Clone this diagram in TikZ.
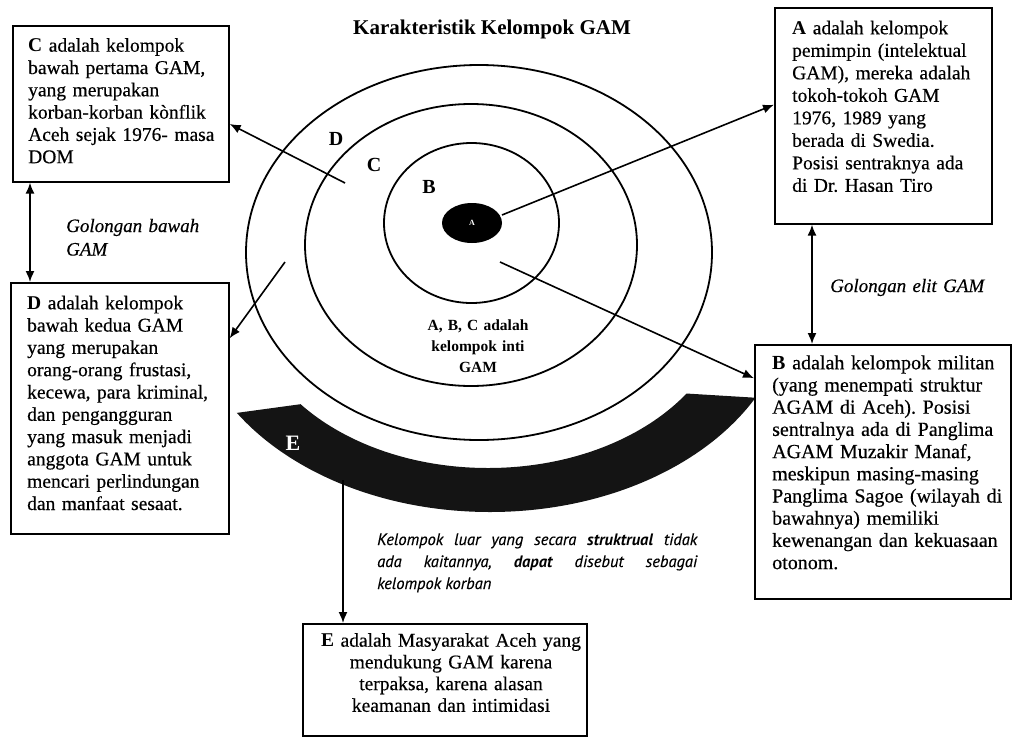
\documentclass[tikz,border=0pt]{standalone}
\usepackage{fontspec}
\setmainfont{Liberation Serif}[UprightFeatures={FakeBold=0.4},ItalicFeatures={FakeBold=0.4}]
\newfontfamily\capfont{PT Sans}[ItalicFeatures={FakeBold=0.4}]
\usetikzlibrary{arrows.meta,calc,shapes.geometric}
\frenchspacing
\begin{document}
\begin{tikzpicture}[x=1pt,y=-1pt,
  box/.style={draw, line width=1.6pt, rectangle, inner sep=0pt, anchor=north west},
  boxtext/.style={anchor=base west, inner sep=0pt, text width=245pt, align=left, font=\fontsize{19.5}{22.3}\selectfont},
  ctext/.style={anchor=base, inner sep=0pt, align=center},
  ring/.style={line width=1.8pt},
  lbl/.style={inner sep=0pt, font=\bfseries\fontsize{20}{24}\selectfont},
  arr/.style={line width=1.6pt, -{Latex[length=11pt,width=9pt]}},
  darr/.style={line width=1.6pt, {Latex[length=11pt,width=9pt]}-{Latex[length=11pt,width=9pt]}},
  itl/.style={anchor=base west, inner sep=0pt, text width=200pt, align=left, font=\itshape\fontsize{19}{23.5}\selectfont}]
\useasboundingbox (0,0) rectangle (1014,739);

% title
\node[ctext, font=\bfseries\fontsize{21}{25}\selectfont] (title) at (492,34) {Karakteristik Kelompok GAM};

% E band
\begin{scope}
  \clip (170,422) -- (302,404) -- (678,393) -- (842,403) -- (842,560) -- (170,560) -- cycle;
  \fill[black!92, even odd rule] (490,298) ellipse [x radius=300pt, y radius=214pt]
                                (488,298) ellipse [x radius=240pt, y radius=170pt];
\end{scope}
\node[lbl, text=white, font=\bfseries\fontsize{22}{26}\selectfont] (Elab) at (293,443) {E};

% rings
\draw[ring] (479,252.5) ellipse [x radius=233pt, y radius=187.5pt];
\draw[ring] (471,245) ellipse [x radius=166pt, y radius=141pt];
\draw[ring] (471.5,223) ellipse [x radius=87.5pt, y radius=80pt];
\node[ellipse, fill=black, minimum width=60pt, minimum height=40pt, inner sep=0pt,
      text=white, font=\bfseries\fontsize{8}{9}\selectfont] (Aell) at (472,223) {A};

\node[lbl] (Dlab) at (336,139) {D};
\node[lbl] (Clab) at (374,165) {C};
\node[lbl] (Blab) at (429,187) {B};

\node[ctext, text width=150pt, font=\bfseries\fontsize{15.5}{21}\selectfont] (abc) at (478,330)
  {A, B, C adalah\\kelompok inti\\GAM};

% boxes
\node[box, minimum width=216pt, minimum height=156pt] (Cbox) at (12,25) {};
\node[box, minimum width=218pt, minimum height=251pt] (Dbox) at (10,282) {};
\node[box, minimum width=217pt, minimum height=216pt] (Abox) at (774,7) {};
\node[box, minimum width=256pt, minimum height=254pt] (Bbox) at (754,344) {};
\node[box, minimum width=284pt, minimum height=112pt] (Ebox) at (302,623) {};

\node[boxtext] (Ctext) at (28,51.7) {\textbf{C} adalah kelompok\\bawah pertama GAM,\\yang merupakan\\korban-korban kònflik\\Aceh sejak 1976- masa\\DOM};
\node[boxtext] (Dtext) at (27,309.3) {\textbf{D} adalah kelompok\\bawah kedua GAM\\yang merupakan\\orang-orang frustasi,\\kecewa, para kriminal,\\dan pengangguran\\yang masuk menjadi\\anggota GAM untuk\\mencari perlindungan\\dan manfaat sesaat.};
\node[boxtext, font=\fontsize{19.5}{22.5}\selectfont] (Atext) at (792,34.3) {\textbf{A} adalah kelompok\\pemimpin (intelektual\\GAM), mereka adalah\\tokoh-tokoh GAM\\1976, 1989 yang\\berada di Swedia.\\Posisi sentraknya ada\\di Dr. Hasan Tiro};
\node[boxtext, font=\fontsize{20}{22.2}\selectfont] (Btext) at (772,369.3) {\textbf{B} adalah kelompok militan\\(yang menempati struktur\\AGAM di Aceh). Posisi\\sentralnya ada di Panglima\\AGAM Muzakir Manaf,\\meskipun masing-masing\\Panglima Sagoe (wilayah di\\bawahnya) memiliki\\kewenangan dan kekuasaan\\otonom.};
\node[ctext, text width=280pt, font=\fontsize{19.5}{21.7}\selectfont] (Etext) at (451,646.7)
  {\textbf{E} adalah Masyarakat Aceh yang\\mendukung GAM karena\\terpaksa, karena alasan\\keamanan dan intimidasi};

% italic side labels
\node[itl] (gbawah) at (66,232) {Golongan bawah\\GAM};
\node[itl] (gelit) at (830,292) {Golongan elit GAM};

% caption
\node[anchor=base west, inner sep=0pt, text width=320pt, align=justify,
      font=\capfont\itshape\fontsize{16.5}{22}\selectfont] (cap) at (377,545)
  {Kelompok luar yang secara \textbf{struktrual} tidak\linebreak ada kaitannya, \textbf{dapat} disebut sebagai\linebreak kelompok korban};

% connectors
\coordinate (tC) at (345,183);
\draw[arr] (tC) -- ($(Cbox.north east)!0.628!(Cbox.south east)$);
\coordinate (tD) at (285,262);
\draw[arr] (tD) -- ($(Dbox.north east)!0.223!(Dbox.south east)$);
\coordinate (tA) at (502,215);
\draw[arr] (tA) -- ($(Abox.north west)!0.449!(Abox.south west)$);
\coordinate (tB) at (500,262);
\draw[arr] (tB) -- ($(Bbox.north west)!0.134!(Bbox.south west)$);
\coordinate (tE) at (343,480);
\draw[arr] (tE) -- (tE |- Ebox.north);
\coordinate (cd) at ($(Cbox.south west)+(18,0)$);
\draw[darr] (cd) -- (cd |- Dbox.north);
\coordinate (ab) at ($(Abox.south west)+(38,0)$);
\draw[darr] (ab) -- (ab |- Bbox.north);
\end{tikzpicture}
\end{document}
